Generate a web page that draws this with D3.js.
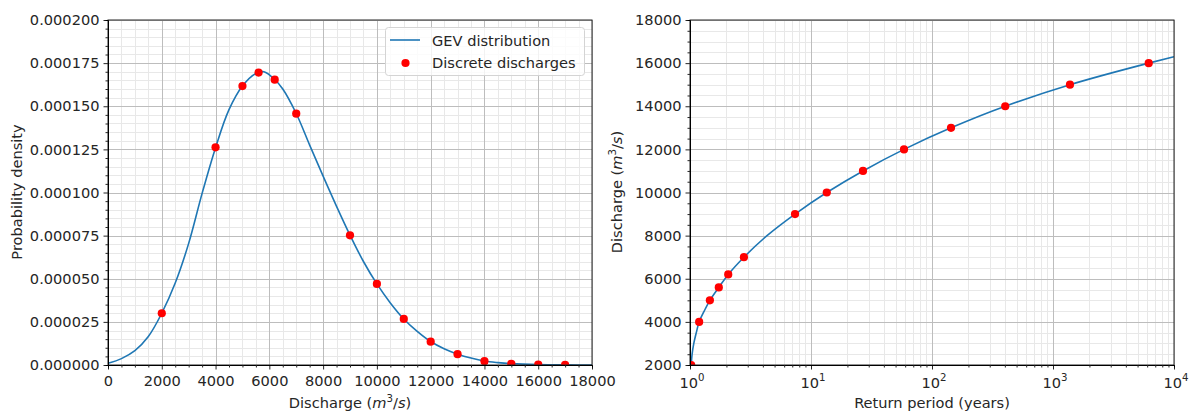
<!DOCTYPE html>
<html>
<head>
<meta charset="utf-8">
<script src="https://cdn.jsdelivr.net/npm/d3@7"></script>
<style>
  body { margin: 0; background: #fff; }
  text { font-family: "DejaVu Sans", sans-serif; fill: #262626; }
</style>
</head>
<body>
<svg id="fig" width="1192" height="412"></svg>
<script>
// GEV probability density sampled along the discharge axis
const pdfDischarge = [0, 500, 1000, 1500, 2000, 2500, 3000, 3500, 4000, 4500, 5000, 5500, 5800, 6200, 6500, 7000, 7500, 8000, 8500, 9000, 9500, 10000, 10500, 11000, 11500, 12000, 12500, 13000, 13500, 14000, 14500, 15000, 16000, 17000, 18000];
const pdfDensity = [1.0e-6, 3.7e-6, 8.3e-6, 1.65e-5, 3.0e-5, 4.75e-5, 7.05e-5, 9.95e-5, 1.26e-4, 1.48e-4, 1.617e-4, 1.69e-4, 1.70e-4, 1.655e-4, 1.60e-4, 1.458e-4, 1.275e-4, 1.095e-4, 9.2e-5, 7.53e-5, 6.0e-5, 4.7e-5, 3.6e-5, 2.67e-5, 1.95e-5, 1.36e-5, 9.4e-6, 6.3e-6, 4.0e-6, 2.3e-6, 1.4e-6, 8e-7, 2.5e-7, 7e-8, 2e-8];

// discrete discharges and their densities
const pointDischarge = [2000, 4000, 5000, 5600, 6200, 7000, 9000, 10000, 11000, 12000, 13000, 14000, 15000, 16000, 17000];
const pointDensity = [3.0e-5, 1.262e-4, 1.617e-4, 1.695e-4, 1.654e-4, 1.457e-4, 7.52e-5, 4.70e-5, 2.67e-5, 1.35e-5, 6.3e-6, 2.2e-6, 7e-7, 2e-7, 5e-8];

// return period curve (years, m3/s)
const curvePeriod = [1.0042, 1.0106, 1.023, 1.041, 1.075, 1.127, 1.19, 1.31, 1.46, 1.73, 2.07, 2.79, 4.33, 7.38, 13.5, 26.9, 58.7, 143.6, 403, 1381, 6180, 10000];
const curveDischarge = [1000, 1500, 2000, 2500, 3000, 3500, 4000, 4500, 5000, 5600, 6200, 7000, 8000, 9000, 10000, 11000, 12000, 13000, 14000, 15000, 16000, 16300];

// return periods of the discrete discharges
const returnDischarge = [2000, 4000, 5000, 5600, 6200, 7000, 9000, 10000, 11000, 12000, 13000, 14000, 15000, 16000];
const returnPeriod = [1.023, 1.19, 1.46, 1.73, 2.07, 2.79, 7.38, 13.5, 26.9, 58.7, 143.6, 403, 1381, 6180];

// tick labels
const densityTicks = [0, 0.000025, 0.00005, 0.000075, 0.0001, 0.000125, 0.00015, 0.000175, 0.0002];
const dischargeTicks = [0, 2000, 4000, 6000, 8000, 10000, 12000, 14000, 16000, 18000];
const returnDischargeTicks = [2000, 4000, 6000, 8000, 10000, 12000, 14000, 16000, 18000];
const periodTicks = [1, 10, 100, 1000, 10000];

const LINE = "#1f77b4";
const DOT = "#ff0000";
const FS = "14.6px";
const SUP = "10.2px";
const svg = d3.select("#fig");

function frame(g, x0, x1, y0, y1) {
  g.append("rect").attr("x", x0).attr("y", y0).attr("width", x1 - x0).attr("height", y1 - y0)
    .attr("fill", "none").attr("stroke", "#262626").attr("stroke-width", 1);
}

function gridLines(g, xs, ys, x, y, color, w) {
  const [xa, xb] = x.range(), [ya, yb] = y.range();
  g.selectAll(null).data(xs).join("line")
    .attr("x1", d => Math.round(x(d)) + 0.5).attr("x2", d => Math.round(x(d)) + 0.5)
    .attr("y1", yb).attr("y2", ya).attr("stroke", color).attr("stroke-width", w);
  g.selectAll(null).data(ys).join("line")
    .attr("y1", d => Math.round(y(d)) + 0.5).attr("y2", d => Math.round(y(d)) + 0.5)
    .attr("x1", xa).attr("x2", xb).attr("stroke", color).attr("stroke-width", w);
}

function unitLabel(t, prefix) {
  t.append("tspan").text(prefix + " (");
  t.append("tspan").attr("font-style", "italic").text("m");
  t.append("tspan").attr("font-size", SUP).attr("dy", -6).text("3");
  t.append("tspan").attr("dy", 6).text("/");
  t.append("tspan").attr("font-style", "italic").text("s");
  t.append("tspan").text(")");
}

function styleAxis(a) {
  a.select(".domain").remove();
  a.selectAll("line").attr("stroke", "#262626");
  a.selectAll("text").attr("font-size", FS).attr("font-family", "DejaVu Sans").attr("fill", "#262626");
}

// ---------- left: probability density ----------
{
  const x = d3.scaleLinear().domain([0, 18000]).range([108, 592]);
  const y = d3.scaleLinear().domain([0, 0.0002]).range([365, 20]);
  const g = svg.append("g");

  const xMinor = d3.range(0, 18001, 500).filter(v => v % 2000 !== 0);
  const yMinor = d3.range(0, 41).map(i => i * 0.000005).filter((v, i) => i % 5 !== 0);
  gridLines(g, xMinor, yMinor, x, y, "#e8e8e8", 1);
  gridLines(g, dischargeTicks, densityTicks, x, y, "#bdbdbd", 1);

  g.append("defs").append("clipPath").attr("id", "clipL")
    .append("rect").attr("x", 108).attr("y", 20).attr("width", 484).attr("height", 345);

  const pdf = pdfDischarge.map((q, i) => [q, pdfDensity[i]]);
  g.append("path").datum(pdf).attr("clip-path", "url(#clipL)")
    .attr("fill", "none").attr("stroke", LINE).attr("stroke-width", 1.6)
    .attr("d", d3.line().x(d => x(d[0])).y(d => y(d[1])).curve(d3.curveCatmullRom.alpha(0.5)));

  g.append("g").attr("clip-path", "url(#clipL)").selectAll("circle")
    .data(pointDischarge.map((q, i) => [q, pointDensity[i]])).join("circle")
    .attr("cx", d => x(d[0])).attr("cy", d => y(d[1])).attr("r", 4.1).attr("fill", DOT);

  frame(g, 108, 592, 20, 365);

  const xa = g.append("g").attr("transform", "translate(0,365)")
    .call(d3.axisBottom(x).tickValues(dischargeTicks).tickFormat(d3.format("d")).tickSize(4.5).tickPadding(6));
  xa.append("g").call(d3.axisBottom(x).tickValues(xMinor).tickFormat("").tickSize(2.5));
  const ya = g.append("g").attr("transform", "translate(108,0)")
    .call(d3.axisLeft(y).tickValues(densityTicks).tickFormat(d3.format(".6f")).tickSize(4.5).tickPadding(4));
  ya.append("g").call(d3.axisLeft(y).tickValues(yMinor).tickFormat("").tickSize(2.5));
  styleAxis(xa); styleAxis(ya);

  unitLabel(g.append("text").attr("x", 350).attr("y", 408).attr("text-anchor", "middle").attr("font-size", FS), "Discharge");
  g.append("text").attr("transform", "translate(22,192) rotate(-90)").attr("text-anchor", "middle")
    .attr("font-size", FS).text("Probability density");

  // legend
  const lg = g.append("g");
  lg.append("rect").attr("x", 385.5).attr("y", 27.5).attr("width", 199).attr("height", 48).attr("rx", 3)
    .attr("fill", "#fff").attr("fill-opacity", 0.8).attr("stroke", "#d4d4d4");
  lg.append("line").attr("x1", 390).attr("x2", 420).attr("y1", 40).attr("y2", 40)
    .attr("stroke", LINE).attr("stroke-width", 1.6);
  lg.append("text").attr("x", 432).attr("y", 45.5).attr("font-size", FS).text("GEV distribution");
  lg.append("circle").attr("cx", 405.5).attr("cy", 63).attr("r", 4.1).attr("fill", DOT);
  lg.append("text").attr("x", 432).attr("y", 67.5).attr("font-size", FS).text("Discrete discharges");
}

// ---------- right: discharge vs return period ----------
{
  const x = d3.scaleLog().domain([1, 10000]).range([690, 1174]);
  const y = d3.scaleLinear().domain([2000, 18000]).range([365, 20]);
  const g = svg.append("g");

  const xMinor = [];
  for (let e = 0; e < 4; e++) for (let k = 2; k <= 9; k++) xMinor.push(k * Math.pow(10, e));
  const yMinor = d3.range(2000, 18001, 500).filter(v => v % 2000 !== 0);
  gridLines(g, xMinor, yMinor, x, y, "#e8e8e8", 1);
  gridLines(g, periodTicks, returnDischargeTicks, x, y, "#bdbdbd", 1);

  g.append("defs").append("clipPath").attr("id", "clipR")
    .append("rect").attr("x", 690).attr("y", 20).attr("width", 484).attr("height", 345);

  const curve = curvePeriod.map((t, i) => [t, curveDischarge[i]]);
  g.append("path").datum(curve).attr("clip-path", "url(#clipR)")
    .attr("fill", "none").attr("stroke", LINE).attr("stroke-width", 1.6)
    .attr("d", d3.line().x(d => x(d[0])).y(d => y(d[1])).curve(d3.curveMonotoneY));

  g.append("g").attr("clip-path", "url(#clipR)").selectAll("circle")
    .data(returnPeriod.map((t, i) => [t, returnDischarge[i]])).join("circle")
    .attr("cx", d => x(d[0])).attr("cy", d => y(d[1])).attr("r", 4.1).attr("fill", DOT);

  frame(g, 690, 1174, 20, 365);

  const xa = g.append("g").attr("transform", "translate(0,365)")
    .call(d3.axisBottom(x).tickValues(periodTicks).tickFormat("").tickSize(4.5));
  xa.append("g").call(d3.axisBottom(x).tickValues(xMinor).tickFormat("").tickSize(2.5));
  const ya = g.append("g").attr("transform", "translate(690,0)")
    .call(d3.axisLeft(y).tickValues(returnDischargeTicks).tickFormat(d3.format("d")).tickSize(4.5).tickPadding(4));
  ya.append("g").call(d3.axisLeft(y).tickValues(yMinor).tickFormat("").tickSize(2.5));
  styleAxis(xa); styleAxis(ya);

  // power-of-ten tick labels
  periodTicks.forEach(t => {
    const lab = g.append("text").attr("x", x(t) + 2).attr("y", 387.5).attr("text-anchor", "middle").attr("font-size", FS);
    lab.append("tspan").text("10");
    lab.append("tspan").attr("font-size", SUP).attr("dy", -6.5).text(String(Math.round(Math.log10(t))));
  });

  g.append("text").attr("x", 932).attr("y", 408).attr("text-anchor", "middle").attr("font-size", FS)
    .text("Return period (years)");
  unitLabel(g.append("text").attr("transform", "translate(622,192) rotate(-90)").attr("text-anchor", "middle")
    .attr("font-size", FS), "Discharge");
}
</script>
</body>
</html>
